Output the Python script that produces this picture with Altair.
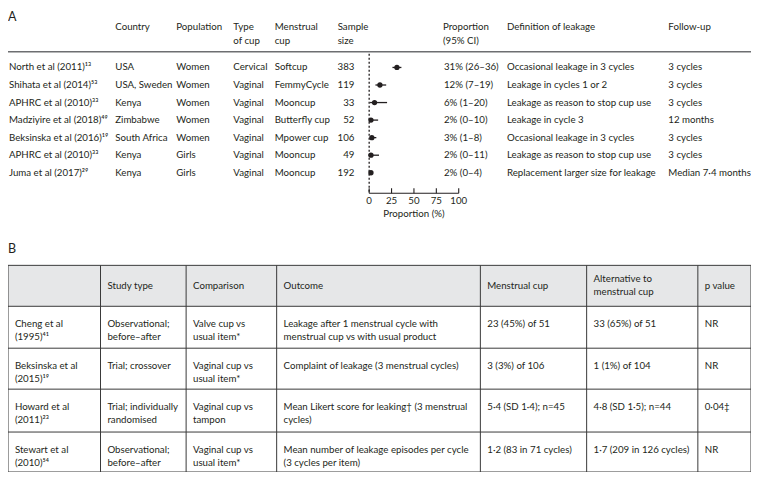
import altair as alt
import pandas as pd

# ---------------- data: panel A ----------------
studies_a = ["North et al (2011)¹³", "Shihata et al (2014)⁵³", "APHRC et al (2010)³³",
             "Madziyire et al (2018)⁴⁹", "Beksinska et al (2016)¹⁹", "APHRC et al (2010)³³",
             "Juma et al (2017)²⁹"]
countries = ["USA", "USA, Sweden", "Kenya", "Zimbabwe", "South Africa", "Kenya", "Kenya"]
populations = ["Women", "Women", "Women", "Women", "Women", "Girls", "Girls"]
cup_types = ["Cervical", "Vaginal", "Vaginal", "Vaginal", "Vaginal", "Vaginal", "Vaginal"]
cup_names = ["Softcup", "FemmyCycle", "Mooncup", "Butterfly cup", "Mpower cup", "Mooncup", "Mooncup"]
sample_sizes = [383, 119, 33, 52, 106, 49, 192]
proportion = [31, 12, 6, 2, 3, 2, 2]
ci_low = [26, 7, 1, 0, 1, 0, 0]
ci_high = [36, 19, 20, 10, 8, 11, 4]
definitions = ["Occasional leakage in 3 cycles", "Leakage in cycles 1 or 2",
               "Leakage as reason to stop cup use", "Leakage in cycle 3",
               "Occasional leakage in 3 cycles", "Leakage as reason to stop cup use",
               "Replacement larger size for leakage"]
follow_up = ["3 cycles", "3 cycles", "3 cycles", "12 months", "3 cycles", "3 cycles",
             "Median 7·4 months"]
axis_ticks = [0, 25, 50, 75, 100]
reference_line = [0]

headers_a = [["Country"], ["Population"], ["Type", "of cup"], ["Menstrual", "cup"],
             ["Sample", "size"], ["Proportion", "(95% CI)"], ["Definition of leakage"],
             ["Follow-up"]]

# ---------------- data: panel B ----------------
headers_b = [[""], ["Study type"], ["Comparison"], ["Outcome"], ["Menstrual cup"],
             ["Alternative to", "menstrual cup"], ["p value"]]
studies_b = [["Cheng et al", "(1995)⁴¹"], ["Beksinska et al", "(2015)¹⁹"],
             ["Howard et al", "(2011)²³"], ["Stewart et al", "(2010)⁵⁴"]]
study_types = [["Observational;", "before–after"], ["Trial; crossover"],
               ["Trial; individually", "randomised"], ["Observational;", "before–after"]]
comparisons = [["Valve cup vs", "usual item*"], ["Vaginal cup vs", "usual item*"],
               ["Vaginal cup vs", "tampon"], ["Vaginal cup vs", "usual item*"]]
outcomes = [["Leakage after 1 menstrual cycle with", "menstrual cup vs with usual product"],
            ["Complaint of leakage (3 menstrual cycles)"],
            ["Mean Likert score for leaking† (3 menstrual", "cycles)"],
            ["Mean number of leakage episodes per cycle", "(3 cycles per item)"]]
cup_results = [["23 (45%) of 51"], ["3 (3%) of 106"], ["5·4 (SD 1·4); n=45"], ["1·2 (83 in 71 cycles)"]]
alt_results = [["33 (65%) of 51"], [" 1 (1%) of 104"], ["4·8 (SD 1·5); n=44"], ["1·7 (209 in 126 cycles)"]]
p_values = [["NR"], ["NR"], ["0·04‡"], ["NR"]]

# ---------------- layout / style ----------------
W, H = 743, 464
REF_X = [2, 757]          # horizontal extent of the drawing (layout units)
REF_Y = [2, 478]          # vertical extent of the drawing (layout units)
FONT = "Lato"
FS = 9.7
INK = "#231f20"
GRID = "#3a3a3a"


def to_px(v):
    return (v - REF_X[0]) * W / (REF_X[1] - REF_X[0])


SX = alt.Scale(domain=REF_X, range=[0, W])
SY = alt.Scale(domain=REF_Y, range=[0, H])
SF = alt.Scale(domain=[0, 100], range=[to_px(369), to_px(460)])  # forest scale

col_a_left = [111, 173, 231, 273, 337, 444, 509, 673]
name_x_a = 3
sample_right_x = 354
row_y0, row_dy = 63, 18
head_y1, head_y2 = 22, 36
rule_a_y = 47
axis_y = 192

col_b = [2, 96, 183, 275, 482, 590, 703, 757]
row_b = [266, 308, 351, 393, 437, 478]
pad_b = 7


def text_layer(rows, align="left", size=FS, weight="normal", scale_x=SX):
    df = pd.DataFrame(rows, columns=["x", "y", "t"])
    return alt.Chart(df).mark_text(
        align=align, baseline="middle", font=FONT, fontSize=size, color=INK,
        fontWeight=weight
    ).encode(
        x=alt.X("x:Q", scale=scale_x, axis=None),
        y=alt.Y("y:Q", scale=SY, axis=None),
        text="t:N",
    )


def rule_layer(rows, color=GRID, width=1.0, dash=None, scale_x=SX):
    df = pd.DataFrame(rows, columns=["x", "x2", "y", "y2"])
    kw = dict(color=color, strokeWidth=width)
    if dash:
        kw["strokeDash"] = dash
    return alt.Chart(df).mark_rule(**kw).encode(
        x=alt.X("x:Q", scale=scale_x, axis=None), x2="x2:Q",
        y=alt.Y("y:Q", scale=SY, axis=None), y2="y2:Q",
    )


layers = []

# ---- panel labels
layers.append(text_layer([(2, 11, "A"), (2, 249, "B")], size=12.5))

# ---- panel A headers
hdr = []
for x, lines in zip(col_a_left, headers_a):
    for j, s in enumerate(lines):
        hdr.append((x, head_y1 if j == 0 else head_y2, s))
layers.append(text_layer(hdr))
layers.append(rule_layer([(REF_X[0], REF_X[1], rule_a_y, rule_a_y)], color="#6d6e71", width=1.5))

# ---- panel A rows
left_rows, right_rows = [], []
for i in range(len(studies_a)):
    y = row_y0 + row_dy * i
    left_rows += [
        (name_x_a, y, studies_a[i]),
        (col_a_left[0], y, countries[i]),
        (col_a_left[1], y, populations[i]),
        (col_a_left[2], y, cup_types[i]),
        (col_a_left[3], y, cup_names[i]),
        (col_a_left[5] + 1, y, f"{proportion[i]}% ({ci_low[i]}–{ci_high[i]})"),
        (col_a_left[6], y, definitions[i]),
        (col_a_left[7], y, follow_up[i]),
    ]
    right_rows.append((sample_right_x, y, str(sample_sizes[i])))
layers.append(text_layer(left_rows))
layers.append(text_layer(right_rows, align="right"))

# ---- forest plot
n = len(studies_a)
forest = pd.DataFrame({
    "y": [row_y0 + row_dy * i for i in range(n)],
    "p": proportion, "lo": ci_low, "hi": ci_high,
})
layers.append(rule_layer([(v, v, rule_a_y + 2, axis_y) for v in reference_line],
                         color=INK, width=1.3, dash=[2, 2], scale_x=SF))
layers.append(alt.Chart(forest).mark_rule(color=INK, strokeWidth=1.3).encode(
    x=alt.X("lo:Q", scale=SF, axis=None), x2="hi:Q",
    y=alt.Y("y:Q", scale=SY, axis=None)))
layers.append(alt.Chart(forest).mark_point(filled=True, shape="circle", size=28,
                                           color=INK, opacity=1).encode(
    x=alt.X("p:Q", scale=SF, axis=None),
    y=alt.Y("y:Q", scale=SY, axis=None)))
# axis drawn from tick values
layers.append(rule_layer([(axis_ticks[0], axis_ticks[-1], axis_y, axis_y)],
                         color=INK, width=1.1, scale_x=SF))
layers.append(rule_layer([(v, v, axis_y - 5, axis_y) for v in axis_ticks],
                         color=INK, width=1.1, scale_x=SF))
layers.append(text_layer([(v, axis_y + 8, str(v)) for v in axis_ticks],
                         align="center", scale_x=SF))
layers.append(text_layer([((axis_ticks[0] + axis_ticks[-1]) / 2, axis_y + 21, "Proportion (%)")],
                         align="center", scale_x=SF))

# ---- panel B table
hdr_fill = pd.DataFrame({"x": [col_b[0]], "x2": [col_b[-1]], "y": [row_b[0]], "y2": [row_b[1]]})
layers.append(alt.Chart(hdr_fill).mark_rect(color="#e6e7e8").encode(
    x=alt.X("x:Q", scale=SX, axis=None), x2="x2:Q",
    y=alt.Y("y:Q", scale=SY, axis=None), y2="y2:Q"))
lines = [(x, x, row_b[0], row_b[-1]) for x in col_b]
lines += [(col_b[0], col_b[-1], y, y) for y in row_b]
layers.append(rule_layer(lines, color=GRID, width=1.0))

cells = []
hc = (row_b[0] + row_b[1]) / 2
for c, lines_ in enumerate(headers_b):
    k = len(lines_)
    for j, s in enumerate(lines_):
        if s:
            cells.append((col_b[c] + pad_b, hc + (j - (k - 1) / 2) * 13.5, s))
columns_b = [studies_b, study_types, comparisons, outcomes, cup_results, alt_results, p_values]
for r in range(len(studies_b)):
    top = row_b[r + 1]
    for c, col in enumerate(columns_b):
        for j, s in enumerate(col[r]):
            cells.append((col_b[c] + pad_b, top + 18 + 14 * j, s))
layers.append(text_layer(cells))

chart = alt.layer(*layers).resolve_scale(x="independent", y="shared").properties(
    width=W, height=H, padding=0, autosize=alt.AutoSizeParams(type="none")
).configure_view(stroke=None)

chart.save("out.html", embed_options={"renderer": "svg", "actions": False})
